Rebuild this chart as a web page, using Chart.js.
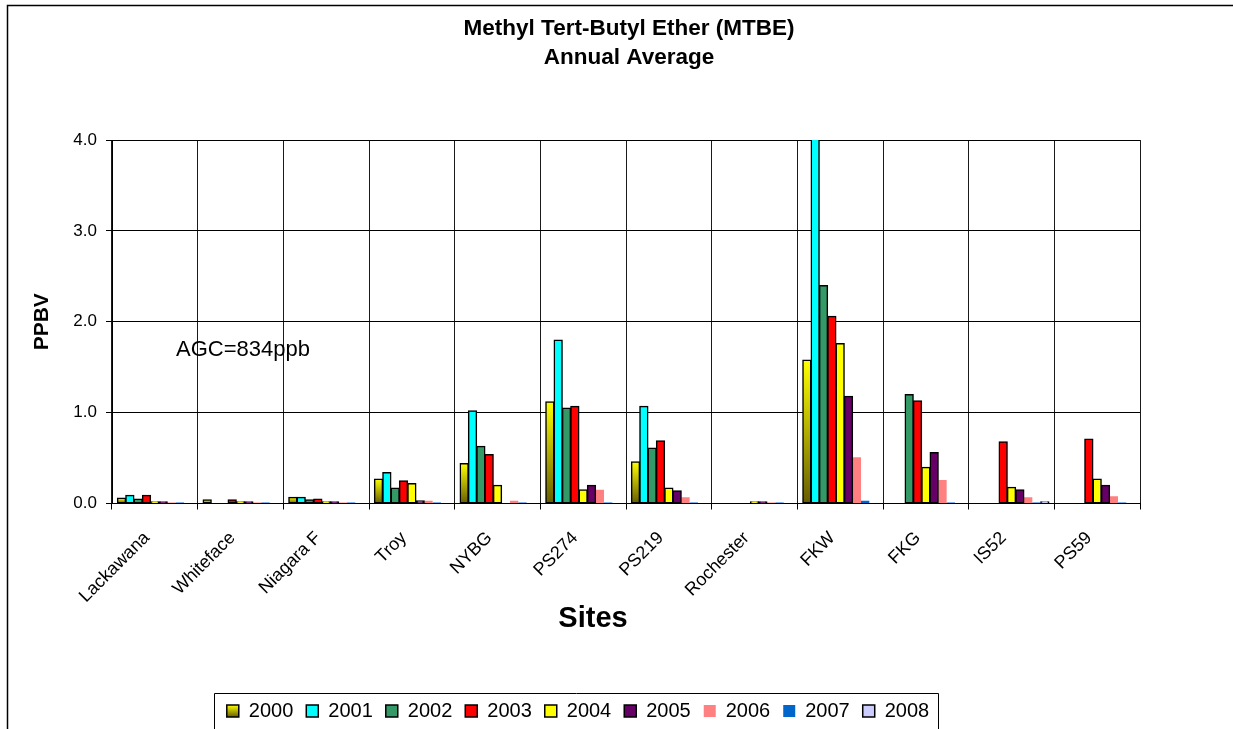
<!DOCTYPE html>
<html>
<head>
<meta charset="utf-8">
<title>MTBE Annual Average</title>
<script src="https://cdn.jsdelivr.net/npm/chart.js@4.4.1/dist/chart.umd.min.js"></script>
<style>
  html, body { margin: 0; padding: 0; background: #ffffff; }
  canvas { display: block; }
</style>
</head>
<body>
<canvas id="chart" width="1233" height="729"></canvas>
<script>
// Monitoring sites (x categories)
const sites = ['Lackawana', 'Whiteface', 'Niagara F', 'Troy', 'NYBG', 'PS274',
               'PS219', 'Rochester', 'FKW', 'FKG', 'IS52', 'PS59'];

// Years shown as series
const years = ['2000', '2001', '2002', '2003', '2004', '2005', '2006', '2007', '2008'];

// Annual average MTBE, ppbv (null = no data for that year)
const v2000 = [0.06, 0.04, 0.07, 0.27, 0.44, 1.12, 0.46, null, 1.58, null, null, null];
const v2001 = [0.09, null, 0.07, 0.34, 1.02, 1.80, 1.07, null, 4.30, null, null, null];
const v2002 = [0.05, null, 0.04, 0.17, 0.63, 1.05, 0.61, null, 2.40, 1.20, null, null];
const v2003 = [0.09, 0.04, 0.05, 0.25, 0.54, 1.07, 0.69, null, 2.06, 1.13, 0.68, 0.71];
const v2004 = [0.02, 0.02, 0.02, 0.22, 0.20, 0.15, 0.17, 0.02, 1.76, 0.40, 0.18, 0.27];
const v2005 = [0.02, 0.02, 0.02, 0.03, null, 0.20, 0.14, 0.02, 1.18, 0.56, 0.15, 0.20];
const v2006 = [0.01, 0.01, 0.01, 0.03, 0.03, 0.15, 0.07, 0.01, 0.51, 0.26, 0.07, 0.08];
const v2007 = [0.01, 0.01, 0.01, 0.01, 0.01, 0.01, 0.01, 0.01, 0.03, 0.01, 0.01, 0.01];
const v2008 = [null, null, null, null, null, null, null, null, null, null, 0.02, null];

// Value axis range and tick step
const yMin = 0;
const yMax = 4;
const yStep = 1;

const seriesValues = [v2000, v2001, v2002, v2003, v2004, v2005, v2006, v2007, v2008];

// ---- styling ----
const FONT = 'Arial, "Liberation Sans", Helvetica, sans-serif';
const fills = ['#FFFF00', '#00FFFF', '#339966', '#FF0000', '#FFFF00',
               '#660066', '#FF8080', '#0066CC', '#CCCCFF'];
const outlined = [true, true, true, true, true, true, false, false, true];

// 2000 bars shade from yellow at the top to olive at the base
function olivePaint(ctx) {
  const chart = ctx.chart;
  if (ctx.type !== 'data' || !chart.chartArea) return '#C8C000';
  const y = chart.scales.y;
  const top = y.getPixelForValue(ctx.parsed.y);
  const base = y.getPixelForValue(0);
  if (!isFinite(top) || base - top < 1) return '#C8C000';
  const g = chart.ctx.createLinearGradient(0, top, 0, base);
  g.addColorStop(0, '#FFFF00');
  g.addColorStop(1, '#665C00');
  return g;
}

const datasets = years.map((yr, i) => ({
  label: yr,
  data: seriesValues[i],
  backgroundColor: i === 0 ? olivePaint : fills[i],
  borderColor: '#000000',
  borderWidth: outlined[i] ? 1.5 : 0,
  borderSkipped: false,
  inflateAmount: outlined[i] ? 0.5 : 0,
  categoryPercentage: 0.875,
  barPercentage: 1.0,
  clip: 0
}));

const TITLE_SHIFT = 49;
const LEGEND_SHIFT = -2;
const LEGEND_DROP = 2;
const Y_AXIS_WIDTH = 92;
const X_AXIS_HEIGHT = 182.5;

// Recentre title and legend blocks after the layout pass
const blockShift = {
  id: 'blockShift',
  afterLayout(chart) {
    const t = chart.titleBlock;
    if (t) { t.left += TITLE_SHIFT; t.right += TITLE_SHIFT; }
    const l = chart.legend;
    if (l) {
      l.left += LEGEND_SHIFT; l.right += LEGEND_SHIFT;
      l.top += LEGEND_DROP; l.bottom += LEGEND_DROP;
    }
  }
};

// Background, outer frame and the shaded 2000 legend swatch
const backdrop = {
  id: 'backdrop',
  beforeDraw(chart) {
    const c = chart.ctx;
    c.save();
    c.fillStyle = '#ffffff';
    c.fillRect(0, 0, chart.width, chart.height);
    c.strokeStyle = '#000000';
    c.lineWidth = 1.5;
    c.beginPath();
    c.moveTo(7.5, chart.height);
    c.lineTo(7.5, 5.5);
    c.lineTo(chart.width, 5.5);
    c.stroke();
    c.restore();

    const lg = chart.legend;
    if (lg && lg.legendHitBoxes && lg.legendHitBoxes.length && lg.legendItems) {
      const hb = lg.legendHitBoxes[0];
      const g = c.createLinearGradient(0, hb.top + 4, 0, hb.top + hb.height - 4);
      g.addColorStop(0, '#FFFF00');
      g.addColorStop(1, '#665C00');
      lg.legendItems[0].fillStyle = g;
    }
  },
  afterDraw(chart) {
    const c = chart.ctx;
    const area = chart.chartArea;
    c.save();
    // legend frame
    const lg = chart.legend;
    if (lg && lg.legendHitBoxes && lg.legendHitBoxes.length) {
      const first = lg.legendHitBoxes[0];
      const last = lg.legendHitBoxes[lg.legendHitBoxes.length - 1];
      const cy = first.top + first.height / 2;
      const x0 = Math.round(first.left - 13) + 0.5;
      const x1 = Math.round(last.left + last.width + 9) + 0.5;
      const y0 = Math.round(cy - 18) + 0.5;
      c.strokeStyle = '#000000';
      c.lineWidth = 1;
      c.beginPath();
      c.moveTo(x0, chart.height + 2);
      c.lineTo(x0, y0);
      c.lineTo(x1, y0);
      c.lineTo(x1, chart.height + 2);
      c.stroke();
    }
    // category axis title
    c.fillStyle = '#000000';
    c.font = 'bold 29px ' + FONT;
    c.textAlign = 'center';
    c.textBaseline = 'middle';
    c.fillText('Sites', area.left + 481, area.bottom + 115);
    // note inside the plot
    c.font = '22px ' + FONT;
    c.textAlign = 'left';
    c.fillText('AGC=834ppb', area.left + 64, area.top + 210);
    c.restore();
  }
};

new Chart(document.getElementById('chart'), {
  type: 'bar',
  data: { labels: sites, datasets },
  plugins: [blockShift, backdrop],
  options: {
    responsive: false,
    animation: false,
    events: [],
    layout: { padding: { left: 20, right: 93, top: 0, bottom: 0 } },
    plugins: {
      tooltip: { enabled: false },
      title: {
        display: true,
        text: ['Methyl Tert-Butyl Ether (MTBE)', 'Annual Average'],
        color: '#000000',
        font: { family: FONT, size: 22.5, weight: 'bold', lineHeight: 1.29 },
        padding: { top: 14.5, bottom: 67.5 }
      },
      legend: {
        display: true,
        position: 'bottom',
        labels: {
          color: '#000000',
          font: { family: FONT, size: 20 },
          boxWidth: 12,
          boxHeight: 12,
          padding: 13
        }
      }
    },
    scales: {
      x: {
        offset: true,
        grid: { offset: true, color: '#1a1a1a', lineWidth: 1, tickLength: 6, tickColor: '#000000' },
        border: { display: true, color: '#000000', width: 1 },
        ticks: {
          autoSkip: false,
          minRotation: 45,
          maxRotation: 45,
          padding: 18,
          labelOffset: -8,
          color: '#000000',
          font: { family: FONT, size: 18 }
        },
        afterFit(scale) { scale.height = X_AXIS_HEIGHT; }
      },
      y: {
        min: yMin,
        max: yMax,
        grid: { color: '#000000', lineWidth: 1, tickLength: 6, tickColor: '#000000' },
        border: { display: true, color: '#000000', width: 1 },
        ticks: {
          stepSize: yStep,
          padding: 9,
          color: '#000000',
          font: { family: FONT, size: 17 },
          callback: (v) => Number(v).toFixed(1)
        },
        title: {
          display: true,
          text: 'PPBV',
          color: '#000000',
          font: { family: FONT, size: 21, weight: 'bold' },
          padding: { top: 10, bottom: 0 }
        },
        afterFit(scale) { scale.width = Y_AXIS_WIDTH; }
      }
    }
  }
});
</script>
</body>
</html>
